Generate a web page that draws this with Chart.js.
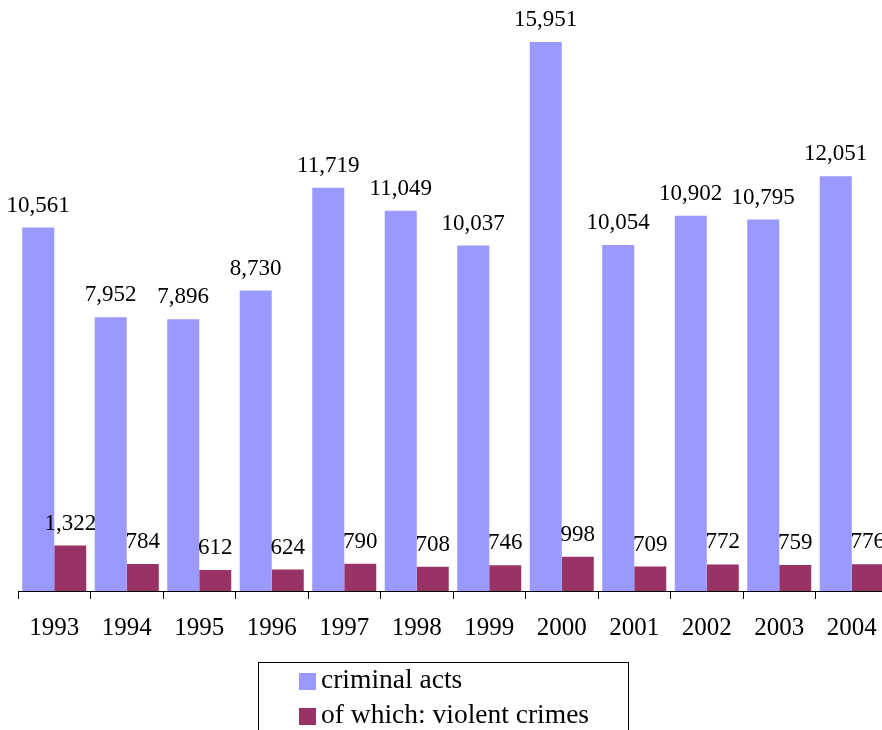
<!DOCTYPE html>
<html>
<head>
<meta charset="utf-8">
<script src="https://cdn.jsdelivr.net/npm/chart.js@4/dist/chart.umd.min.js"></script>
<style>
html,body{margin:0;padding:0;background:#fff;overflow:hidden;}
#wrap{position:relative;width:900px;height:730px;}
</style>
</head>
<body>
<div id="wrap"><canvas id="c" width="900" height="730"></canvas></div>
<script>
const years = ['1993','1994','1995','1996','1997','1998','1999','2000','2001','2002','2003','2004'];
const criminalActs = [10561,7952,7896,8730,11719,11049,10037,15951,10054,10902,10795,12051];
const violentCrimes = [1322,784,612,624,790,708,746,998,709,772,759,776];
const seriesNames = ['criminal acts','of which: violent crimes'];
const seriesColors = ['#9999FF','#993366'];

const SERIF = '"Liberation Serif","Times New Roman",serif';

const labelPlugin = {
  id: 'valueLabels',
  afterDatasetsDraw(chart) {
    const ctx = chart.ctx;
    ctx.save();
    ctx.font = '23px ' + SERIF;
    ctx.fillStyle = '#000';
    ctx.textAlign = 'center';
    ctx.textBaseline = 'alphabetic';
    chart.data.datasets.forEach((ds, di) => {
      const meta = chart.getDatasetMeta(di);
      meta.data.forEach((bar, i) => {
        ctx.fillText(ds.data[i].toLocaleString('en-US'), bar.x, bar.y - 16);
      });
    });
    ctx.restore();
  }
};

const legendPlugin = {
  id: 'boxLegend',
  afterDraw(chart) {
    const ctx = chart.ctx;
    ctx.save();
    ctx.strokeStyle = '#000';
    ctx.lineWidth = 1;
    ctx.strokeRect(258.5, 662.5, 370, 100);
    ctx.font = '27.5px ' + SERIF;
    ctx.textAlign = 'left';
    ctx.textBaseline = 'alphabetic';
    chart.data.datasets.forEach((ds, di) => {
      const y = 673 + di * 35;
      ctx.fillStyle = ds.backgroundColor;
      ctx.fillRect(299, y, 17, 17);
      ctx.fillStyle = '#000';
      ctx.fillText(ds.label, 321, y + 15);
    });
    ctx.restore();
  }
};

new Chart(document.getElementById('c'), {
  type: 'bar',
  data: {
    labels: years,
    datasets: [
      {label: seriesNames[0], data: criminalActs, backgroundColor: seriesColors[0]},
      {label: seriesNames[1], data: violentCrimes, backgroundColor: seriesColors[1]}
    ]
  },
  options: {
    responsive: false,
    animation: false,
    devicePixelRatio: 1,
    layout: {padding: {left: 18, right: 12, top: 6, bottom: 0}},
    datasets: {bar: {categoryPercentage: 0.883, barPercentage: 1.0}},
    plugins: {legend: {display: false}, tooltip: {enabled: false}},
    scales: {
      x: {
        afterFit(scale) { scale.height = 139; },
        grid: {display: true, offset: true, drawOnChartArea: false, drawTicks: true, tickLength: 8, color: '#000'},
        border: {display: true, color: '#000', width: 1},
        ticks: {color: '#000', font: {family: SERIF, size: 25}, padding: 14, maxRotation: 0}
      },
      y: {
        display: false,
        min: 0,
        max: 17000
      }
    }
  },
  plugins: [labelPlugin, legendPlugin]
});
</script>
</body>
</html>
